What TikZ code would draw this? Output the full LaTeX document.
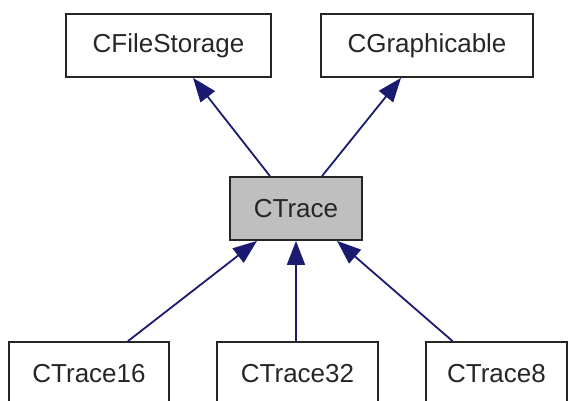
\documentclass[tikz,border=0pt]{standalone}
\usepackage{fontspec}
\setmainfont{Liberation Sans}
\usetikzlibrary{arrows.meta}
\definecolor{navy}{RGB}{26,26,112}
\definecolor{boxgray}{RGB}{191,191,191}
\begin{document}
\begin{tikzpicture}[x=1pt, y=-1pt, >={Triangle[length=24pt,width=18pt]},
  cls/.style={draw=black!85, line width=1.8pt, minimum height=63pt, inner sep=0pt,
    text=black!85, font=\fontsize{26}{30}\selectfont},
  inherit/.style={->, draw=navy, fill=navy, line width=1.8pt}]
  \useasboundingbox (0,0) rectangle (568,401);
  \clip (0,0) rectangle (568,401);
  % 基底クラス
  \node[cls, minimum width=205pt] (fileStorage) at (168.5,45.5) {CFileStorage};
  \node[cls, minimum width=212pt] (graphicable) at (427,45.5) {CGraphicable};
  % 注目クラス
  \node[cls, fill=boxgray, minimum width=132pt] (trace) at (296,208.5) {CTrace};
  % 派生クラス
  \node[cls, minimum width=160pt] (trace16) at (89,373.5) {CTrace16};
  \node[cls, minimum width=161pt] (trace32) at (297.5,373.5) {CTrace32};
  \node[cls, minimum width=141pt] (trace8) at (496.5,373.5) {CTrace8};
  % 継承の矢印
  \draw[inherit] ([xshift=-26pt]trace.north) -- ([xshift=24.5pt]fileStorage.south);
  \draw[inherit] ([xshift=26pt]trace.north) -- ([xshift=-26pt]graphicable.south);
  \draw[inherit] ([xshift=39pt]trace16.north) -- ([xshift=-39pt]trace.south);
  \draw[inherit] ([xshift=-1.5pt]trace32.north) -- (trace.south);
  \draw[inherit] ([xshift=-44pt]trace8.north) -- ([xshift=41pt]trace.south);
\end{tikzpicture}
\end{document}
